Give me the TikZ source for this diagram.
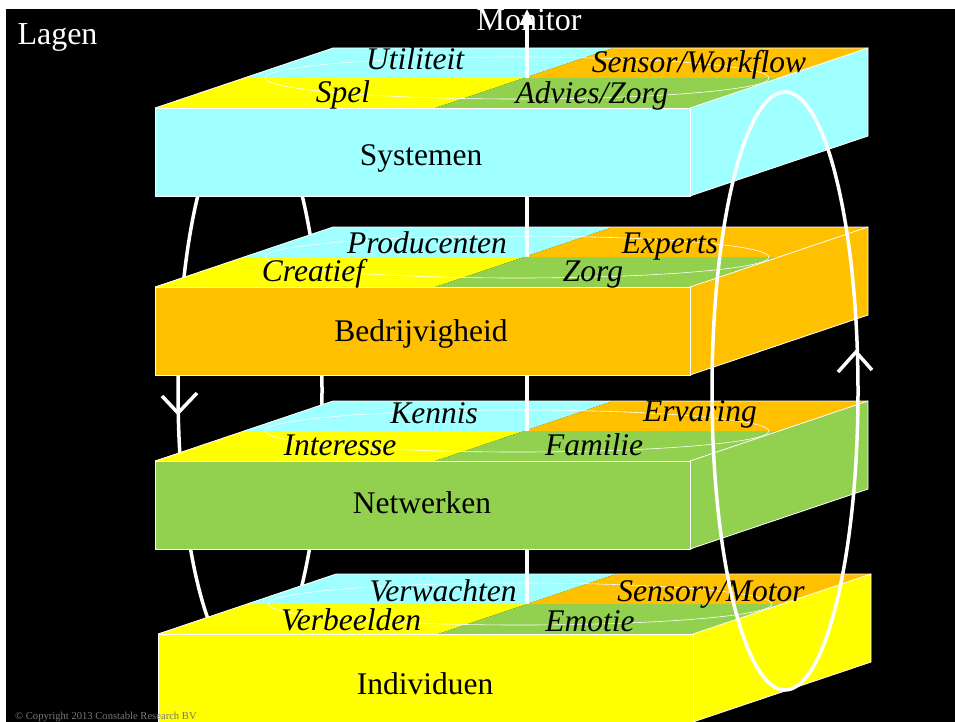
\documentclass[tikz,border=0pt]{standalone}
\usepackage{fontspec}
\setmainfont{Liberation Serif}
\usetikzlibrary{calc,arrows.meta}
\definecolor{lcyan}{HTML}{A0FFFF}
\definecolor{lorange}{HTML}{FFC000}
\definecolor{lgreen}{HTML}{92D050}
\definecolor{lyellow}{HTML}{FFFF00}
\definecolor{cgray}{RGB}{120,120,120}
\tikzset{
  edge/.style={draw=white, line width=0.8pt, line join=round},
  ring/.style={draw=white, line width=0.6pt},
  loopline/.style={draw=white, line width=3.5pt, line join=miter},
  axisline/.style={draw=white, line width=3.5pt},
  toplbl/.style={font=\fontsize{31.5}{36}\selectfont\itshape, text=black, anchor=base, inner sep=0pt},
  frontlbl/.style={font=\fontsize{31.5}{36}\selectfont, text=black, anchor=base, inner sep=0pt},
  whitelbl/.style={font=\fontsize{32}{36}\selectfont, text=white, anchor=base, inner sep=0pt},
}
\newcommand\slab[4]{%
  \coordinate (#1-fl) at (#2,#3);
  \coordinate (#1-fr) at ($(#1-fl)+(535,0)$);
  \coordinate (#1-bl) at ($(#1-fl)+(178,-60)$);
  \coordinate (#1-br) at ($(#1-fr)+(178,-60)$);
  \coordinate (#1-dl) at ($(#1-fl)+(0,88)$);
  \coordinate (#1-dr) at ($(#1-fr)+(0,88)$);
  \coordinate (#1-dbr) at ($(#1-br)+(0,88)$);
  \coordinate (#1-fs) at ($(#1-fl)+(280,0)$);
  \coordinate (#1-bs) at ($(#1-fs)+(178,-60)$);
  \coordinate (#1-ml) at ($(#1-fl)+(89,-30)$);
  \coordinate (#1-mr) at ($(#1-fr)+(89,-30)$);
  \coordinate (#1-ms) at ($(#1-fs)+(89,-30)$);
  \coordinate (#1-c) at ($(#1-fl)+(362,-30)$);
  \fill[#4] (#1-fl) rectangle (#1-dr);
  \fill[#4] (#1-fr) -- (#1-br) -- (#1-dbr) -- (#1-dr) -- cycle;
  \fill[lyellow] (#1-fl) -- (#1-fs) -- (#1-ms) -- (#1-ml) -- cycle;
  \fill[lgreen] (#1-fs) -- (#1-fr) -- (#1-mr) -- (#1-ms) -- cycle;
  \fill[lcyan] (#1-ml) -- (#1-ms) -- (#1-bs) -- (#1-bl) -- cycle;
  \fill[lorange] (#1-ms) -- (#1-mr) -- (#1-br) -- (#1-bs) -- cycle;
  \draw[ring] (#1-c) ellipse [x radius=252pt, y radius=21pt];
  \draw[edge] (#1-fl) rectangle (#1-dr);
  \draw[edge] (#1-fr) -- (#1-br) -- (#1-dbr) -- (#1-dr);
  \draw[edge] (#1-fl) -- (#1-bl) -- (#1-br);
}
\begin{document}
\begin{tikzpicture}[x=1pt,y=-1pt]
\useasboundingbox (0,0) rectangle (955,722);
\clip (0,0) rectangle (955,722);
\fill[white] (0,0) rectangle (955,722);
\fill[black] (6,9) rectangle (955,722);
% centre points of the top faces, on the vertical axis
\coordinate (s1-axis) at (527,78);
\coordinate (s2-axis) at (527,257);
\coordinate (s3-axis) at (527,431);
\coordinate (s4-axis) at (527,604);
\coordinate (mon-tip) at (527,9);
% left loop (behind the layers)
\draw[loopline] (250,390) ellipse [x radius=72pt, y radius=282pt];
% layers from bottom to top, with the central axis between them
\slab{s4}{158}{634}{lyellow}
\draw[axisline] (s4-axis) -- (s3-axis);
\slab{s3}{155}{461}{lgreen}
\draw[axisline] (s3-axis) -- (s2-axis);
\slab{s2}{155}{287}{lorange}
\draw[axisline] (s2-axis) -- (s1-axis);
\slab{s1}{155}{108}{lcyan}
% titles
\node[whitelbl] (lagen) at (57.5,45) {Lagen};
\node[whitelbl] (monitor) at (529,31) {Monitor};
\draw[axisline, -{Triangle[width=14pt,length=16pt]}] (s1-axis) -- (mon-tip);
% Systemen
\node[toplbl] (s1-t1) at (415,70) {Utiliteit};
\node[toplbl] (s1-t2) at (699,73) {Sensor/Workflow};
\node[toplbl] (s1-t3) at (343,103) {Spel};
\node[toplbl] (s1-t4) at (592,104) {Advies/Zorg};
\node[frontlbl] (s1-name) at (421,166) {Systemen};
% Bedrijvigheid
\node[toplbl] (s2-t1) at (427,253) {Producenten};
\node[toplbl] (s2-t2) at (670,253) {Experts};
\node[toplbl] (s2-t3) at (313,281) {Creatief};
\node[toplbl] (s2-t4) at (593,281) {Zorg};
\node[frontlbl] (s2-name) at (421,341) {Bedrijvigheid};
% Netwerken
\node[toplbl] (s3-t1) at (434,423) {Kennis};
\node[toplbl] (s3-t2) at (700,421) {Ervaring};
\node[toplbl] (s3-t3) at (340,455) {Interesse};
\node[toplbl] (s3-t4) at (594,455) {Familie};
\node[frontlbl] (s3-name) at (422,513) {Netwerken};
% Individuen
\node[toplbl] (s4-t1) at (443,601) {Verwachten};
\node[toplbl] (s4-t2) at (711,601) {Sensory/Motor};
\node[toplbl] (s4-t3) at (351,630) {Verbeelden};
\node[toplbl] (s4-t4) at (590,631) {Emotie};
\node[frontlbl] (s4-name) at (425,694) {Individuen};
% right loop (in front) and loop arrowheads
\draw[loopline] (785,391) ellipse [x radius=73pt, y radius=299pt];
\draw[loopline] (162,396) -- (178,413) -- (197,393);
\draw[loopline] (838,372) -- (856,352) -- (872,370);
% copyright
\node[font=\fontsize{10.6}{12}\selectfont, text=cgray, anchor=base west, inner sep=0pt] (copy) at (15,719) {© Copyright 2013 Constable Research BV};
\end{tikzpicture}
\end{document}
